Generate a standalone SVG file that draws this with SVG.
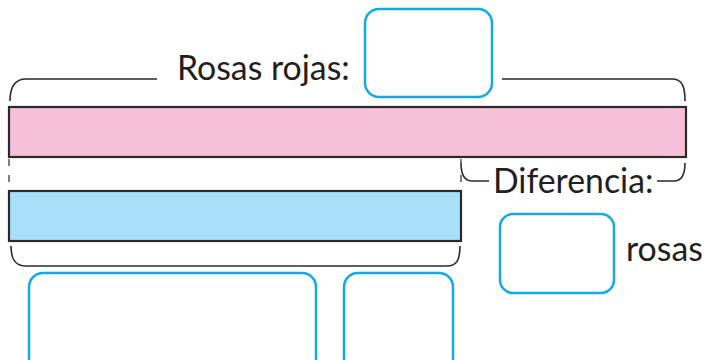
<svg xmlns="http://www.w3.org/2000/svg" width="704" height="360" viewBox="0 0 704 360">
<style>
.bar{stroke:#2b2a29;stroke-width:2.2}
.box{fill:#fff;stroke:#14a9e6;stroke-width:2.5}
.br{fill:none;stroke:#2b2a29;stroke-width:1.6}
.dash{fill:none;stroke:#555;stroke-width:1.5;stroke-dasharray:7 9}
.t{font-family:Lato,"Noto Sans",sans-serif;font-size:33.8px;fill:#231f20}
</style>
<rect width="704" height="360" fill="#fff"/>
<g id="connectors">
<path class="br" d="M10,101 C10,88 14,79 26,79 L157,79"/>
<path class="br" d="M502,79 L672,79 C682,79 685,86 685,101"/>
<path class="br" d="M11,246 C11,259 15,266 26,266 L447,266 C456,266 460,261 460,246"/>
<path class="br" d="M461,163 C461,175 465,181 472,181 L489,181"/>
<path class="br" d="M657,181 L674,181 C682,181 685,175 685,163"/>
<path class="dash" d="M9,159 V191"/>
<path class="dash" d="M461,159 V191"/>
</g>
<g id="pink-bar"><rect class="bar" x="9" y="107" width="677" height="50" fill="#f6c1d8"/></g>
<g id="blue-bar"><rect class="bar" x="9" y="191" width="452" height="50" fill="#aadff9"/></g>
<g id="label-rosas-rojas"><text class="t" x="177" y="80">Rosas rojas:</text></g>
<g id="box-rojas"><rect class="box" x="365" y="9" width="127" height="88" rx="14"/></g>
<g id="label-diferencia"><text class="t" x="493" y="193">Diferencia:</text></g>
<g id="box-diferencia"><rect class="box" x="500" y="214" width="114" height="79" rx="13"/></g>
<g id="label-rosas"><text class="t" x="626" y="261">rosas</text></g>
<g id="box-bottom-1"><rect class="box" x="29" y="273" width="287" height="100" rx="14"/></g>
<g id="box-bottom-2"><rect class="box" x="344" y="273" width="109" height="100" rx="14"/></g>
</svg>
